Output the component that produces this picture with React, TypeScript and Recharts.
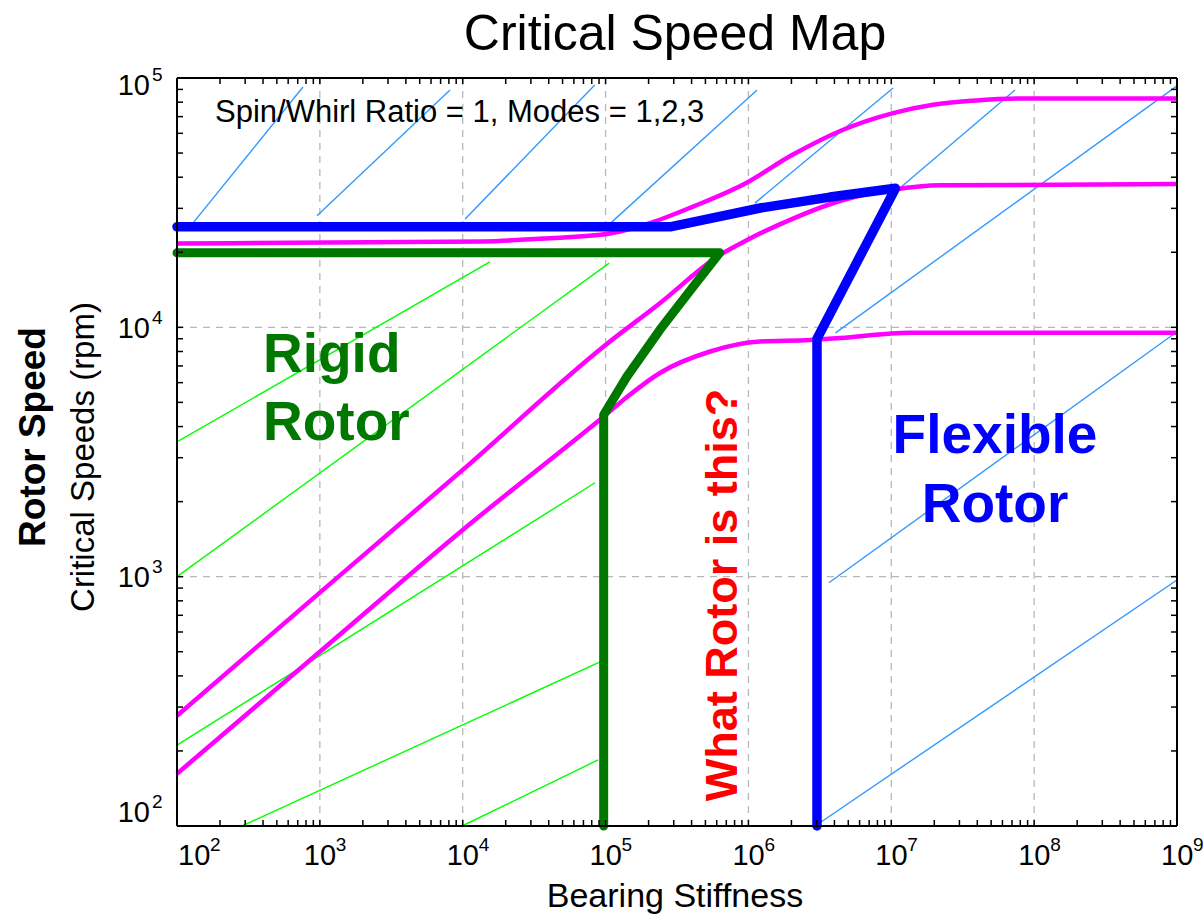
import React from 'react';
import { LineChart, Line, XAxis, YAxis, CartesianGrid } from 'recharts';

const FONT = '"Liberation Sans", Arial, Helvetica, sans-serif';

// axis ticks
const X_DECADES = [1e2, 1e3, 1e4, 1e5, 1e6, 1e7, 1e8, 1e9];
const Y_DECADES = [1e2, 1e3, 1e4, 1e5];
const MINOR_STEPS = [2, 3, 4, 5, 6, 7, 8, 9];

// critical speed curves (bearing stiffness vs rpm), modes 1..3
const MODE1_K = [1e2, 1e3, 1e4, 1e5, 1.5e5, 2.4e5, 5.4e5, 1.2e6, 2.7e6, 4.4e6, 1.35e7, 1e9];
const MODE1_RPM = [162, 500, 1540, 4450, 5400, 6560, 8000, 8770, 8890, 9060, 9510, 9510];
const MODE2_K = [1e2, 1e3, 1e4, 1e5, 2.4e5, 6.3e5, 9.8e5, 2.05e6, 4.6e6, 1.03e7, 2.2e7, 1e9];
const MODE2_RPM = [277, 863, 2680, 8500, 12500, 19500, 22400, 27300, 32400, 35600, 37100, 37600];
const MODE3_K = [1e2, 1.4e4, 3.65e4, 1.07e5, 2.05e5, 4.1e5, 9.2e5, 2.05e6, 4.6e6, 1.03e7, 1.96e7, 3.73e7, 7.96e7, 1e9];
const MODE3_RPM = [21700, 22100, 22700, 23800, 26200, 30500, 37400, 49300, 62000, 72300, 78100, 81100, 82800, 82800];

// region boundaries
const RIGID_K = [1e2, 6.3e5, 4.1e5, 2.4e5, 1.41e5, 9.7e4, 9.7e4];
const RIGID_RPM = [19900, 19900, 14550, 9770, 6340, 4460, 100];
const FLEX_K = [1e2, 2.83e5, 1.21e6, 3.72e6, 1.07e7, 3.02e6, 3.02e6];
const FLEX_RPM = [25300, 25300, 30100, 33300, 36100, 9000, 100];

// thin guide lines, [start, end]
const GREEN_GUIDE_K = [[1e2, 1.55e4], [1e2, 1.06e5], [1e2, 8.44e4], [285, 9.15e4], [9890, 8.85e4]];
const GREEN_GUIDE_RPM = [[3470, 18300], [1000, 18100], [211, 2380], [100, 455], [100, 184]];
const BLUE_GUIDE_K = [
  [128, 762], [955, 8150], [1.04e4, 8.4e4], [1.07e5, 1.15e6], [1.11e6, 1.03e7],
  [1.15e7, 7.35e7], [4.07e6, 1e9], [3.66e6, 1e9], [2.93e6, 1e9],
];
const BLUE_GUIDE_RPM = [
  [26000, 92000], [28000, 89500], [27200, 93700], [26000, 89500], [31500, 91200],
  [36200, 89500], [9500, 93000], [945, 9600], [100, 970],
];

const withMinors = (decades: number[]) => [
  ...decades,
  ...decades.slice(0, -1).flatMap((d) => MINOR_STEPS.map((m) => d * m)),
];
const X_ALL = withMinors(X_DECADES);
const Y_ALL = withMinors(Y_DECADES);

const pts = (ks: number[], rs: number[]) => ks.map((k, i) => ({ x: k, y: rs[i] }));

const AXIS_LINE = { stroke: '#000', strokeWidth: 2 };
const TICK_LINE = { stroke: '#000', strokeWidth: 1.5 };

const NoLabel = () => <g />;

function XTick({ x, y, payload }: any) {
  const exp = Math.round(Math.log10(payload.value));
  const cx = x + (payload.value === 1e2 ? 17 : 0);
  return (
    <g fontFamily={FONT} fill="#000">
      <text x={cx - 16} y={y + 39} fontSize={29}>10</text>
      <text x={cx + 16} y={y + 25} fontSize={19}>{exp}</text>
    </g>
  );
}

function YTick({ x, y, payload }: any) {
  const exp = Math.round(Math.log10(payload.value));
  const nudge = payload.value === 1e5 ? 6 : payload.value === 1e2 ? -15 : 0;
  const cy = y + nudge;
  return (
    <g fontFamily={FONT} fill="#000">
      <text x={x - 27} y={cy + 10.5} textAnchor="end" fontSize={29}>10</text>
      <text x={x - 25} y={cy - 3.5} fontSize={19}>{exp}</text>
    </g>
  );
}

export default function App() {
  const guide = (color: string) => (k: number[], i: number, rpm: number[][]) => (
    <Line
      key={color + i}
      data={pts(k, rpm[i])}
      dataKey="y"
      stroke={color}
      strokeWidth={1.4}
      dot={false}
      activeDot={false}
      isAnimationActive={false}
    />
  );

  return (
    <div style={{ position: 'absolute', left: 0, top: 0, width: 1203, height: 917, background: '#fff' }}>
      <LineChart width={1203} height={917} margin={{ top: 78, right: 26, bottom: 6, left: 7 }}>
        <CartesianGrid stroke="#b8b8b8" strokeDasharray="7 6" strokeWidth={1.3} />
        <XAxis
          dataKey="x"
          type="number"
          scale="log"
          domain={[1e2, 1e9]}
          ticks={X_DECADES}
          interval={0}
          height={85}
          tickLine={false}
          tickSize={0}
          tickMargin={0}
          tick={(p: any) => <XTick {...p} />}
          axisLine={AXIS_LINE}
        />
        <XAxis
          xAxisId="xb"
          dataKey="x"
          type="number"
          scale="log"
          domain={[1e2, 1e9]}
          allowDataOverflow
          ticks={X_ALL}
          interval={0}
          orientation="bottom"
          mirror
          height={1}
          tick={NoLabel}
          tickSize={6}
          tickLine={TICK_LINE}
          axisLine={false}
        />
        <XAxis
          xAxisId="xt"
          dataKey="x"
          type="number"
          scale="log"
          domain={[1e2, 1e9]}
          allowDataOverflow
          ticks={X_ALL}
          interval={0}
          orientation="top"
          mirror
          height={1}
          tick={NoLabel}
          tickSize={6}
          tickLine={TICK_LINE}
          axisLine={AXIS_LINE}
        />
        <YAxis
          type="number"
          scale="log"
          domain={[1e2, 1e5]}
          ticks={Y_DECADES}
          interval={0}
          width={170}
          tickLine={false}
          tickSize={0}
          tickMargin={0}
          tick={(p: any) => <YTick {...p} />}
          axisLine={AXIS_LINE}
        />
        <YAxis
          yAxisId="yl"
          type="number"
          scale="log"
          domain={[1e2, 1e5]}
          allowDataOverflow
          ticks={Y_ALL}
          interval={0}
          orientation="left"
          mirror
          width={1}
          tick={NoLabel}
          tickSize={6}
          tickLine={TICK_LINE}
          axisLine={false}
        />
        <YAxis
          yAxisId="yr"
          type="number"
          scale="log"
          domain={[1e2, 1e5]}
          allowDataOverflow
          ticks={Y_ALL}
          interval={0}
          orientation="right"
          mirror
          width={1}
          tick={NoLabel}
          tickSize={6}
          tickLine={TICK_LINE}
          axisLine={AXIS_LINE}
        />

        {GREEN_GUIDE_K.map((k, i) => guide('#00ff00')(k, i, GREEN_GUIDE_RPM))}
        {BLUE_GUIDE_K.map((k, i) => guide('#3399ff')(k, i, BLUE_GUIDE_RPM))}

        {[pts(MODE1_K, MODE1_RPM), pts(MODE2_K, MODE2_RPM), pts(MODE3_K, MODE3_RPM)].map((d, i) => (
          <Line
            key={'mode' + i}
            type="monotone"
            data={d}
            dataKey="y"
            stroke="#ff00ff"
            strokeWidth={4.5}
            dot={false}
            activeDot={false}
            isAnimationActive={false}
          />
        ))}

        <Line
          data={pts(RIGID_K, RIGID_RPM)}
          dataKey="y"
          stroke="#007800"
          strokeWidth={9}
          strokeLinecap="round"
          strokeLinejoin="round"
          dot={false}
          activeDot={false}
          isAnimationActive={false}
        />
        <Line
          data={pts(FLEX_K, FLEX_RPM)}
          dataKey="y"
          stroke="#0000ff"
          strokeWidth={9.5}
          strokeLinecap="round"
          strokeLinejoin="round"
          dot={false}
          activeDot={false}
          isAnimationActive={false}
        />
      </LineChart>

      <svg
        width={1203}
        height={917}
        style={{ position: 'absolute', left: 0, top: 0, pointerEvents: 'none' }}
        fontFamily={FONT}
      >
        <text x={675} y={50} textAnchor="middle" fontSize={50}>Critical Speed Map</text>
        <text x={215} y={122} fontSize={31}>Spin/Whirl Ratio = 1, Modes = 1,2,3</text>
        <text x={675} y={907} textAnchor="middle" fontSize={34}>Bearing Stiffness</text>
        <text transform="translate(45,437) rotate(-90)" textAnchor="middle" fontSize={37} fontWeight="bold">
          Rotor Speed
        </text>
        <text transform="translate(94,457) rotate(-90)" textAnchor="middle" fontSize={33}>
          Critical Speeds (rpm)
        </text>
        <g fontSize={55} fontWeight="bold" fill="#007800">
          <text x={263} y={372}>Rigid</text>
          <text x={263} y={440}>Rotor</text>
        </g>
        <g fontSize={55} fontWeight="bold" fill="#0000ff" textAnchor="middle">
          <text x={995} y={453}>Flexible</text>
          <text x={995} y={522}>Rotor</text>
        </g>
        <text
          transform="translate(737,595) rotate(-90)"
          textAnchor="middle"
          fontSize={45}
          fontWeight="bold"
          fill="#ff0000"
        >
          What Rotor is this?
        </text>
      </svg>
    </div>
  );
}
